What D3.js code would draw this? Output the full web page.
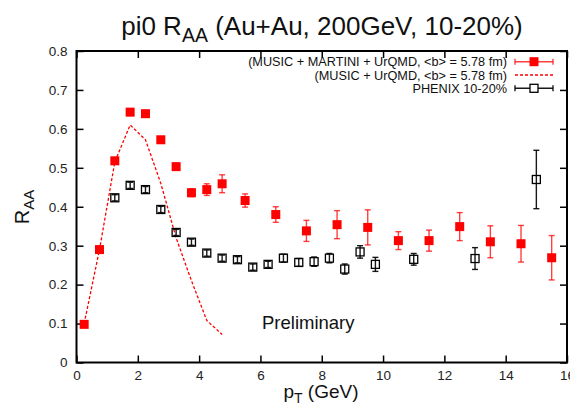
<!DOCTYPE html>
<html>
<head>
<meta charset="utf-8">
<script src="https://cdn.jsdelivr.net/npm/d3@7"></script>
<style>
  body { margin: 0; background: #fff; }
  svg { display: block; font-family: "Liberation Sans", Arial, sans-serif; }
</style>
</head>
<body>
<svg id="chart" width="570" height="405"></svg>
<script>
// MUSIC + MARTINI + UrQMD
const ptMartini = [0.25, 0.75, 1.25, 1.75, 2.25, 2.75, 3.25, 3.75, 4.25, 4.75, 5.5, 6.5, 7.5, 8.5, 9.5, 10.5, 11.5, 12.5, 13.5, 14.5, 15.5];
const raaMartini = [0.098, 0.29, 0.518, 0.643, 0.639, 0.572, 0.503, 0.436, 0.444, 0.459, 0.416, 0.38, 0.338, 0.354, 0.347, 0.313, 0.313, 0.349, 0.31, 0.305, 0.269];
const errMartini = [0.004, 0.005, 0.006, 0.006, 0.006, 0.007, 0.008, 0.01, 0.015, 0.023, 0.017, 0.02, 0.027, 0.036, 0.045, 0.023, 0.027, 0.036, 0.041, 0.047, 0.057];

// MUSIC + UrQMD (dashed curve)
const ptUrqmd = [0.25, 0.75, 1.25, 1.75, 2.25, 2.75, 3.25, 3.75, 4.25, 4.75];
const raaUrqmd = [0.1, 0.29, 0.515, 0.61, 0.572, 0.46, 0.32, 0.21, 0.108, 0.072];

// PHENIX 10-20%
const ptPhenix = [1.25, 1.75, 2.25, 2.75, 3.25, 3.75, 4.25, 4.75, 5.25, 5.75, 6.25, 6.75, 7.25, 7.75, 8.25, 8.75, 9.25, 9.75, 11, 13, 15];
const raaPhenix = [0.423, 0.455, 0.444, 0.393, 0.334, 0.309, 0.281, 0.268, 0.264, 0.245, 0.252, 0.268, 0.257, 0.259, 0.268, 0.24, 0.284, 0.252, 0.265, 0.267, 0.47];
const errPhenix = [0.008, 0.008, 0.008, 0.008, 0.008, 0.008, 0.008, 0.008, 0.008, 0.008, 0.008, 0.01, 0.01, 0.012, 0.012, 0.013, 0.016, 0.018, 0.015, 0.028, 0.075];

const xTicks = [0, 2, 4, 6, 8, 10, 12, 14, 16];
const yTicks = [0, 0.1, 0.2, 0.3, 0.4, 0.5, 0.6, 0.7, 0.8];

const legendLabels = [
  "(MUSIC + MARTINI + UrQMD, <b> = 5.78 fm)",
  "(MUSIC + UrQMD, <b> = 5.78 fm)",
  "PHENIX 10-20%"
];

const svg = d3.select("#chart");
const margin = { top: 51, right: 3, bottom: 42.5, left: 76.5 };
const width = 570 - margin.left - margin.right;
const height = 405 - margin.top - margin.bottom;

const g = svg.append("g")
  .attr("transform", `translate(${margin.left},${margin.top})`);

const x = d3.scaleLinear().domain([0, 16]).range([0, width]);
const y = d3.scaleLinear().domain([0, 0.8]).range([height, 0]);

const red = "#ff0000";
const tickLen = 7;

// frame
g.append("rect")
  .attr("width", width)
  .attr("height", height)
  .attr("fill", "none")
  .attr("stroke", "#000")
  .attr("stroke-width", 2);

// axes with inward ticks, mirrored
g.append("g")
  .attr("transform", `translate(0,${height})`)
  .call(d3.axisBottom(x).tickValues(xTicks).tickSizeInner(-tickLen).tickSizeOuter(0).tickPadding(8))
  .call(a => a.select(".domain").remove());

g.append("g")
  .call(d3.axisTop(x).tickValues(xTicks).tickSizeInner(-tickLen).tickSizeOuter(0).tickFormat(""))
  .call(a => a.select(".domain").remove());

g.append("g")
  .call(d3.axisLeft(y).tickValues(yTicks).tickSizeInner(-tickLen).tickSizeOuter(0).tickPadding(9).tickFormat(d => d === 0 ? "0" : d3.format(".1f")(d)))
  .call(a => a.select(".domain").remove());

g.append("g")
  .attr("transform", `translate(${width},0)`)
  .call(d3.axisRight(y).tickValues(yTicks).tickSizeInner(-tickLen).tickSizeOuter(0).tickFormat(""))
  .call(a => a.select(".domain").remove());

g.selectAll(".tick line").attr("stroke", "#000").attr("stroke-width", 1.5);
g.selectAll(".tick text")
  .attr("font-family", "Liberation Sans, Arial, sans-serif")
  .attr("font-size", 13.5)
  .attr("fill", "#222");

// dashed model curve
const line = d3.line()
  .x((d, i) => x(ptUrqmd[i]))
  .y(d => y(d));

g.append("path")
  .datum(raaUrqmd)
  .attr("d", line)
  .attr("fill", "none")
  .attr("stroke", red)
  .attr("stroke-width", 1.3)
  .attr("stroke-dasharray", "3,2");

// error bar helper
function errorBars(sel, pts, vals, errs, color, opacity) {
  const data = pts.map((p, i) => ({ p, v: vals[i], e: errs[i] }));
  const grp = sel.append("g")
    .attr("stroke", color)
    .attr("stroke-width", 1.4)
    .attr("stroke-opacity", opacity);
  grp.selectAll("line.v")
    .data(data)
    .enter().append("line")
    .attr("x1", d => x(d.p)).attr("x2", d => x(d.p))
    .attr("y1", d => y(d.v - d.e)).attr("y2", d => y(d.v + d.e));
  grp.selectAll("line.lo")
    .data(data)
    .enter().append("line")
    .attr("x1", d => x(d.p) - 3).attr("x2", d => x(d.p) + 3)
    .attr("y1", d => y(d.v - d.e)).attr("y2", d => y(d.v - d.e));
  grp.selectAll("line.hi")
    .data(data)
    .enter().append("line")
    .attr("x1", d => x(d.p) - 3).attr("x2", d => x(d.p) + 3)
    .attr("y1", d => y(d.v + d.e)).attr("y2", d => y(d.v + d.e));
}

// PHENIX
errorBars(g, ptPhenix, raaPhenix, errPhenix, "#000", 0.9);
g.selectAll(".phenix")
  .data(ptPhenix)
  .enter().append("rect")
  .attr("class", "phenix")
  .attr("x", d => x(d) - 4)
  .attr("y", (d, i) => y(raaPhenix[i]) - 4)
  .attr("width", 8)
  .attr("height", 8)
  .attr("fill", "none")
  .attr("stroke", "#000")
  .attr("stroke-width", 1.3);

// MARTINI
errorBars(g, ptMartini, raaMartini, errMartini, red, 0.75);
g.selectAll(".martini")
  .data(ptMartini)
  .enter().append("rect")
  .attr("class", "martini")
  .attr("x", d => x(d) - 4.5)
  .attr("y", (d, i) => y(raaMartini[i]) - 4.5)
  .attr("width", 9)
  .attr("height", 9)
  .attr("fill", red);

// legend
const legY = [61.7, 75, 88.3];
const legTextX = 507;
const legX1 = 515, legX2 = 553, legMid = 534;

legendLabels.forEach((label, i) => {
  svg.append("text")
    .attr("x", legTextX)
    .attr("y", legY[i] + 4.5)
    .attr("text-anchor", "end")
    .attr("font-size", 12.7)
    .attr("fill", "#111")
    .text(label);
});

function legendBar(yy, color, opacity) {
  const lg = svg.append("g").attr("stroke", color).attr("stroke-width", 1.4).attr("stroke-opacity", opacity);
  lg.append("line").attr("x1", legX1).attr("x2", legX2).attr("y1", yy).attr("y2", yy);
  lg.append("line").attr("x1", legX1).attr("x2", legX1).attr("y1", yy - 3).attr("y2", yy + 3);
  lg.append("line").attr("x1", legX2).attr("x2", legX2).attr("y1", yy - 3).attr("y2", yy + 3);
}
legendBar(legY[0], red, 0.75);
svg.append("rect")
  .attr("x", legMid - 4.5).attr("y", legY[0] - 4.5)
  .attr("width", 9).attr("height", 9)
  .attr("fill", red);

svg.append("line")
  .attr("x1", legX1).attr("x2", legX2)
  .attr("y1", legY[1]).attr("y2", legY[1])
  .attr("stroke", red)
  .attr("stroke-width", 1.3)
  .attr("stroke-dasharray", "3,2");

legendBar(legY[2], "#000", 0.9);
svg.append("rect")
  .attr("x", legMid - 4).attr("y", legY[2] - 4)
  .attr("width", 8).attr("height", 8)
  .attr("fill", "#fff")
  .attr("stroke", "#000")
  .attr("stroke-width", 1.3);

// Preliminary
svg.append("text")
  .attr("x", 262)
  .attr("y", 329)
  .attr("font-size", 18.5)
  .attr("fill", "#111")
  .text("Preliminary");

// title
const title = svg.append("text")
  .attr("x", 322)
  .attr("y", 35)
  .attr("text-anchor", "middle")
  .attr("font-size", 26)
  .attr("fill", "#111");
title.append("tspan").text("pi0 R");
title.append("tspan").attr("font-size", 19.5).attr("dy", 7).text("AA");
title.append("tspan").attr("dy", -7).text(" (Au+Au, 200GeV, 10-20%)");

// axis titles
const xTitle = svg.append("text")
  .attr("x", 321)
  .attr("y", 398)
  .attr("text-anchor", "middle")
  .attr("font-size", 19)
  .attr("fill", "#111");
xTitle.append("tspan").text("p");
xTitle.append("tspan").attr("font-size", 14).attr("dy", 5).text("T");
xTitle.append("tspan").attr("dy", -5).text(" (GeV)");

const yTitle = svg.append("text")
  .attr("transform", "translate(29,207) rotate(-90)")
  .attr("text-anchor", "middle")
  .attr("font-size", 20)
  .attr("fill", "#111");
yTitle.append("tspan").text("R");
yTitle.append("tspan").attr("font-size", 15).attr("dy", 5).text("AA");
</script>
</body>
</html>
